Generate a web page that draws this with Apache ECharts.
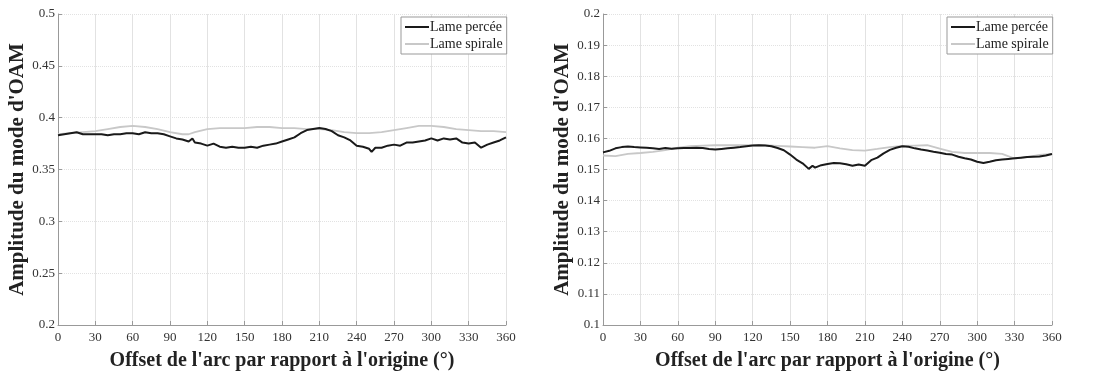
<!DOCTYPE html>
<html>
<head>
<meta charset="utf-8">
<script src="https://cdn.jsdelivr.net/npm/echarts@6/dist/echarts.min.js"></script>
<style>
html,body{margin:0;padding:0;background:#fff;}
#chart{width:1097px;height:376px;}
</style>
</head>
<body>
<div id="chart"></div>
<script>
// angles (deg) and amplitudes
var leftPerceeX = [0,5,10,15,20,25,30,35,40,45,50,55,60,65,70,75,80,85,90,95,100,105,108,110,115,120,125,130,135,140,145,150,155,160,165,170,175,180,185,190,195,200,205,210,215,220,225,230,235,240,245,250,252,255,260,265,270,275,280,285,290,295,300,305,310,315,320,325,330,335,340,345,350,355,360];
var leftPerceeY = [0.383,0.384,0.385,0.386,0.384,0.384,0.384,0.384,0.383,0.384,0.384,0.385,0.385,0.384,0.386,0.385,0.385,0.384,0.382,0.380,0.379,0.377,0.380,0.376,0.375,0.373,0.375,0.372,0.371,0.372,0.371,0.371,0.372,0.371,0.373,0.374,0.375,0.377,0.379,0.381,0.385,0.388,0.389,0.390,0.389,0.387,0.383,0.381,0.378,0.373,0.372,0.370,0.367,0.371,0.371,0.373,0.374,0.373,0.376,0.376,0.377,0.378,0.380,0.378,0.380,0.379,0.380,0.376,0.375,0.376,0.371,0.374,0.376,0.378,0.381];
var leftSpiraleX = [0,10,20,30,40,50,60,70,80,90,100,105,110,120,130,140,150,160,170,180,190,200,210,220,230,240,250,260,270,280,290,300,310,320,330,340,350,360];
var leftSpiraleY = [0.384,0.385,0.386,0.387,0.389,0.391,0.392,0.391,0.389,0.386,0.384,0.384,0.386,0.389,0.390,0.390,0.390,0.391,0.391,0.390,0.390,0.389,0.389,0.388,0.386,0.385,0.385,0.386,0.388,0.390,0.392,0.392,0.391,0.389,0.388,0.387,0.387,0.386];

var rightPerceeX = [0,5,10,15,20,25,30,35,40,45,50,55,60,65,70,75,80,85,90,95,100,105,110,115,120,125,130,135,140,145,150,155,160,165,168,170,175,180,185,190,195,200,205,210,215,220,225,230,235,240,245,250,255,260,265,270,275,280,285,290,295,300,305,310,315,320,325,330,335,340,345,350,355,360];
var rightPerceeY = [0.1555,0.1560,0.1568,0.1572,0.1574,0.1572,0.1571,0.1570,0.1568,0.1566,0.1569,0.1567,0.1568,0.1569,0.1569,0.1570,0.1569,0.1566,0.1564,0.1566,0.1568,0.1570,0.1572,0.1575,0.1577,0.1578,0.1577,0.1575,0.1569,0.1562,0.1548,0.1532,0.1520,0.1502,0.1512,0.1506,0.1514,0.1518,0.1521,0.1520,0.1517,0.1512,0.1516,0.1512,0.1530,0.1538,0.1552,0.1563,0.1570,0.1575,0.1573,0.1568,0.1564,0.1561,0.1557,0.1554,0.1550,0.1548,0.1541,0.1536,0.1532,0.1525,0.1521,0.1525,0.1530,0.1532,0.1534,0.1536,0.1538,0.1540,0.1541,0.1542,0.1545,0.1550];
var rightSpiraleX = [0,10,20,30,40,50,60,70,80,90,100,110,120,130,140,150,160,170,180,190,200,210,220,230,240,250,260,270,280,290,300,310,320,330,340,350,360];
var rightSpiraleY = [0.1545,0.1543,0.1550,0.1553,0.1557,0.1562,0.1570,0.1575,0.1577,0.1578,0.1578,0.1578,0.1578,0.1578,0.1576,0.1574,0.1572,0.1570,0.1575,0.1568,0.1562,0.1561,0.1566,0.1572,0.1576,0.1577,0.1578,0.1567,0.1557,0.1553,0.1553,0.1553,0.1550,0.1535,0.1540,0.1547,0.1550];

var seriesNames = ['Lame percée', 'Lame spirale'];
var xTitle = "Offset de l'arc par rapport à l'origine (°)";
var yTitle = "Amplitude du mode d'OAM";

function pairs(xs, ys){
    var out = [];
    for (var i = 0; i < xs.length; i++) out.push([xs[i], ys[i]]);
    return out;
}

var font = '"Liberation Serif", "DejaVu Serif", serif';

function xAxisFor(idx){
    return {
        gridIndex: idx, type: 'value', min: 0, max: 360, interval: 30,
        name: xTitle, nameLocation: 'middle', nameGap: 26,
        nameTextStyle: {fontFamily: font, fontSize: 20, fontWeight: 'bold', color: '#222'},
        axisLine: {lineStyle: {color: '#999'}},
        axisTick: {inside: true, length: 4, lineStyle: {color: '#999'}},
        axisLabel: {fontFamily: font, fontSize: 13, color: '#333', margin: 6},
        splitLine: {show: true, lineStyle: {color: '#e2e2e2'}}
    };
}
function yAxisFor(idx, min, max, step){
    return {
        gridIndex: idx, type: 'value', min: min, max: max, interval: step,
        name: yTitle, nameLocation: 'middle', nameGap: 28,
        nameTextStyle: {fontFamily: font, fontSize: 21, fontWeight: 'bold', color: '#222'},
        axisLine: {show: true, lineStyle: {color: '#999'}},
        axisTick: {show: true, inside: true, length: 4, lineStyle: {color: '#999'}},
        axisLabel: {fontFamily: font, fontSize: 13, color: '#333', margin: 3},
        splitLine: {show: true, lineStyle: {color: '#e2e2e2', type: 'dotted'}}
    };
}
function legendFor(left){
    return {
        left: left, top: 17, orient: 'vertical',
        data: seriesNames, icon: 'rect', itemWidth: 24, itemHeight: 2, itemGap: 3,
        padding: [3, 4, 3, 4], borderColor: '#999', borderWidth: 1, borderRadius: 0,
        backgroundColor: '#fff',
        textStyle: {fontFamily: font, fontSize: 14, color: '#222', padding: [0, 0, 0, -4]}
    };
}

var chart = echarts.init(document.getElementById('chart'));
chart.setOption({
    animation: false,
    backgroundColor: '#fff',
    grid: [
        {left: 58, top: 14, width: 448, height: 318},
        {left: 603, top: 14, width: 449, height: 318}
    ],
    legend: [legendFor(401), legendFor(947)],
    xAxis: [xAxisFor(0), xAxisFor(1)],
    yAxis: [yAxisFor(0, 0.2, 0.5, 0.05), yAxisFor(1, 0.1, 0.2, 0.01)],
    series: [
        {name: seriesNames[1], type: 'line', xAxisIndex: 0, yAxisIndex: 0, showSymbol: false,
         lineStyle: {color: '#c8c8c8', width: 1.8}, itemStyle: {color: '#c8c8c8'},
         data: pairs(leftSpiraleX, leftSpiraleY)},
        {name: seriesNames[0], type: 'line', xAxisIndex: 0, yAxisIndex: 0, showSymbol: false,
         lineStyle: {color: '#1a1a1a', width: 2}, itemStyle: {color: '#1a1a1a'},
         data: pairs(leftPerceeX, leftPerceeY)},
        {name: seriesNames[1], type: 'line', xAxisIndex: 1, yAxisIndex: 1, showSymbol: false,
         lineStyle: {color: '#c8c8c8', width: 1.8}, itemStyle: {color: '#c8c8c8'},
         data: pairs(rightSpiraleX, rightSpiraleY)},
        {name: seriesNames[0], type: 'line', xAxisIndex: 1, yAxisIndex: 1, showSymbol: false,
         lineStyle: {color: '#1a1a1a', width: 2}, itemStyle: {color: '#1a1a1a'},
         data: pairs(rightPerceeX, rightPerceeY)}
    ]
});
</script>
</body>
</html>
